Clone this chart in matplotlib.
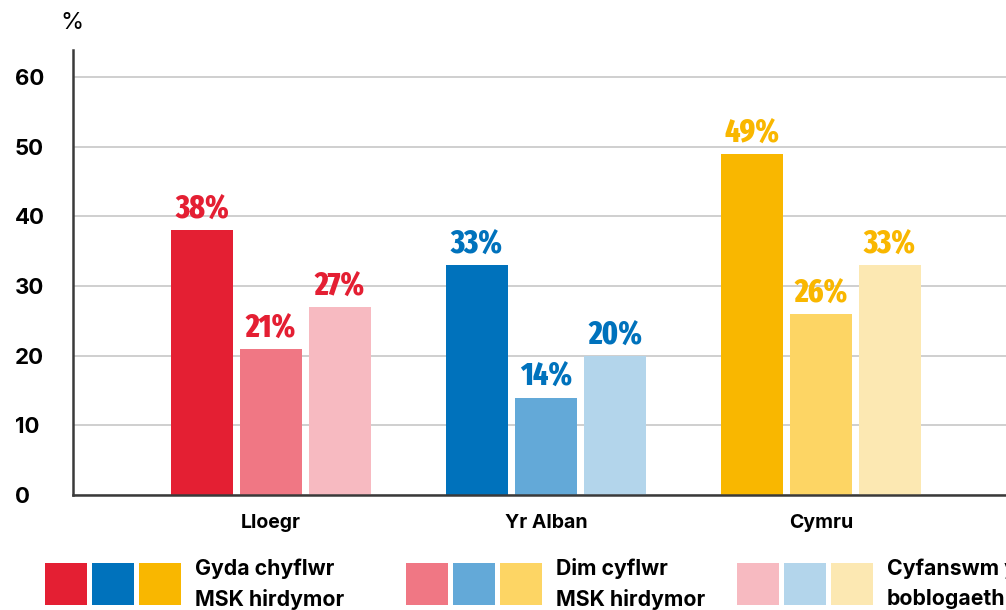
import matplotlib
matplotlib.use("Agg")
import matplotlib.pyplot as plt
from matplotlib.patches import Rectangle
import numpy as np

categories = ["Lloegr", "Yr Alban", "Cymru"]
series_names = ["Gyda chyflwr\nMSK hirdymor", "Dim cyflwr\nMSK hirdymor", "Cyfanswm y\nboblogaeth"]
with_msk = [38, 33, 49]
without_msk = [21, 14, 26]
total_pop = [27, 20, 33]
yticks = [0, 10, 20, 30, 40, 50, 60]

# colours per category (dark, mid, light)
cat_colors = [
    ["#E41F33", "#F07784", "#F7BAC1"],
    ["#0072BC", "#63A9D8", "#B3D5EB"],
    ["#F9B700", "#FDD564", "#FCE8B2"],
]

plt.rcParams['font.family'] = ['Inter', 'DejaVu Sans']
label_family = ["Fira Sans Extra Condensed", "Fira Sans Condensed", "DejaVu Sans"]

W, H = 1006, 610
fig = plt.figure(figsize=(W / 100, H / 100), dpi=100)
ax = fig.add_axes([73 / W, (H - 495) / H, (W - 73) / W, (495 - 50) / H])

x = np.arange(len(categories))
bw = 0.2255
step = 0.251
series = [with_msk, without_msk, total_pop]
for si, vals in enumerate(series):
    cols = [cat_colors[c][si] for c in range(len(categories))]
    bars = ax.bar(x + (si - 1) * step, vals, width=bw, color=cols, zorder=3)
    for ci, (b, v) in enumerate(zip(bars, vals)):
        ax.annotate(f"{v}%", (b.get_x() + b.get_width() / 2, v),
                    xytext=(0, 3), textcoords="offset points",
                    ha="center", va="bottom", fontsize=23, fontweight=800,
                    family=label_family,
                    color=cat_colors[ci][0], zorder=4)

ax.set_xlim(-0.72, 0.673 + 2)
ax.set_ylim(0, 63.9)
ax.set_yticks(yticks)
ax.set_yticklabels([str(t) for t in yticks], ha="left", fontsize=16, fontweight="bold")
ax.tick_params(axis="y", length=0, pad=42)
ax.set_xticks(x)
ax.set_xticklabels(categories, fontsize=14, fontweight="bold")
ax.tick_params(axis="x", length=0, pad=14)
ax.grid(axis="y", color="#cccccc", linewidth=1.3, zorder=0)
for s in ["top", "right"]:
    ax.spines[s].set_visible(False)
for s in ["left", "bottom"]:
    ax.spines[s].set_color("#3a3a3a")
    ax.spines[s].set_linewidth(1.8)
    ax.spines[s].set_zorder(5)

fig.text(72 / W, 1 - 23 / H, "%", ha="center", va="center", fontsize=17)

# legend
leg_groups = [45, 406, 737]
sq = 42
gap = 5
for si, gx in enumerate(leg_groups):
    for ci in range(3):
        x0 = gx + ci * (sq + gap)
        fig.add_artist(Rectangle((x0 / W, (H - 605) / H), sq / W, sq / H,
                                 transform=fig.transFigure,
                                 facecolor=cat_colors[ci][si], edgecolor="none"))
    fig.text((gx + 3 * sq + 2 * gap + 14) / W, 1 - 584 / H, series_names[si],
             ha="left", va="center", fontsize=15.3, fontweight="bold",
             linespacing=1.6)

fig.savefig("out.png", dpi=100)
